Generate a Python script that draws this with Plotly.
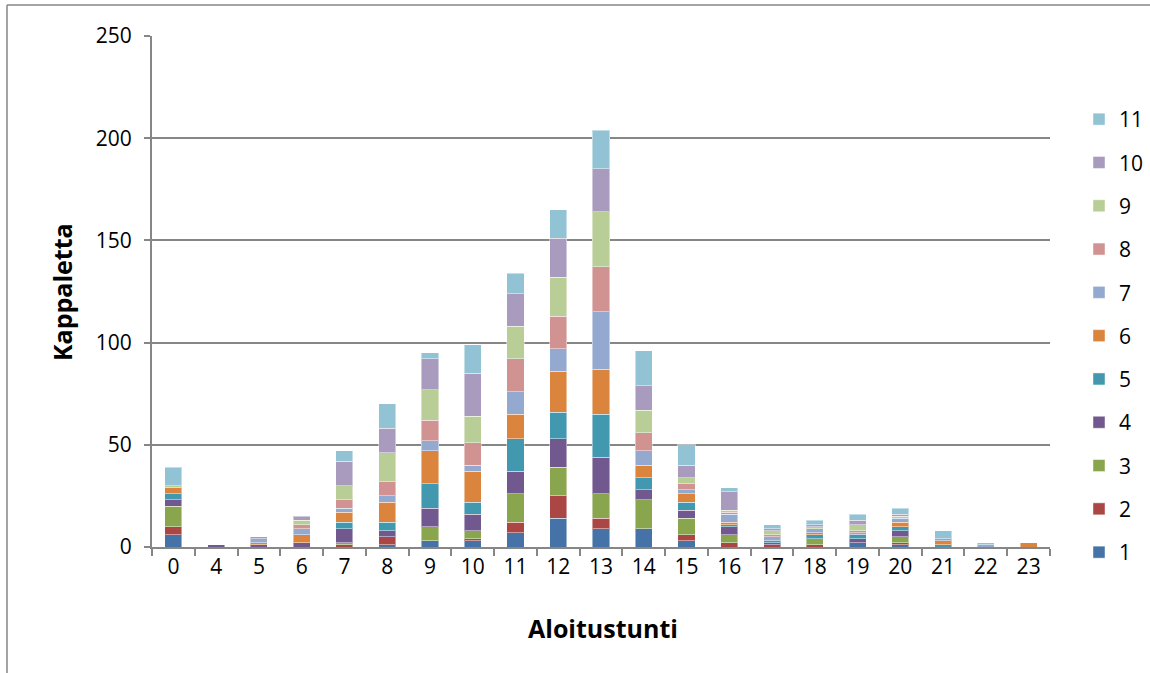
import plotly.graph_objects as go

hours = ["0", "4", "5", "6", "7", "8", "9", "10", "11", "12", "13", "14",
         "15", "16", "17", "18", "19", "20", "21", "22", "23"]

s1 = [6, 0, 0, 0, 0, 1, 3, 3, 7, 14, 9, 9, 3, 0, 0, 0, 2, 1, 0, 0, 0]
s2 = [4, 0, 0, 0, 1, 4, 0, 1, 5, 11, 5, 0, 3, 2, 1, 1, 0, 1, 0, 0, 0]
s3 = [10, 0, 0, 0, 1, 0, 7, 4, 14, 14, 12, 14, 8, 4, 0, 3, 0, 3, 0, 0, 0]
s4 = [3, 1, 1, 2, 7, 3, 9, 8, 11, 14, 18, 5, 4, 4, 1, 0, 2, 3, 0, 0, 0]
s5 = [3, 0, 0, 0, 3, 4, 12, 6, 16, 13, 21, 6, 4, 1, 1, 2, 2, 2, 1, 0, 0]
s6 = [3, 0, 1, 4, 5, 10, 16, 15, 12, 20, 22, 6, 4, 1, 0, 1, 0, 2, 2, 0, 2]
s7 = [0, 0, 2, 3, 2, 3, 5, 3, 11, 11, 28, 7, 2, 4, 2, 2, 1, 2, 0, 1, 0]
s8 = [0, 0, 0, 2, 4, 7, 10, 11, 16, 16, 22, 9, 3, 1, 1, 0, 1, 0, 0, 0, 0]
s9 = [1, 0, 0, 2, 7, 14, 15, 13, 16, 19, 27, 11, 3, 1, 2, 1, 3, 1, 0, 0, 0]
s10 = [0, 0, 1, 2, 12, 12, 15, 21, 16, 19, 21, 12, 6, 9, 1, 1, 2, 1, 1, 0, 0]
s11 = [9, 0, 0, 0, 5, 12, 3, 14, 10, 14, 19, 17, 10, 2, 2, 2, 3, 3, 4, 1, 0]

series_names = ["1", "2", "3", "4", "5", "6", "7", "8", "9", "10", "11"]
series_values = [s1, s2, s3, s4, s5, s6, s7, s8, s9, s10, s11]
colors = ["#4573A7", "#AA4643", "#89A54E", "#71588F", "#4198AF", "#DB843D",
          "#93A9CF", "#D19392", "#B9CD96", "#A99BBD", "#92C3D4"]

FONT = "Open Sans"

fig = go.Figure()
n = len(series_names)
for i, (name, vals, col) in enumerate(zip(series_names, series_values, colors)):
    fig.add_trace(go.Bar(
        x=hours,
        y=[v if v else None for v in vals],
        name=name,
        legendgroup=name,
        legendrank=n - i,
        marker=dict(color=col, line=dict(color="rgba(255,255,255,0.45)", width=1)),
    ))

L, R, T, B = 152, 100, 36, 126
W, H = 1150, 673
pw, ph = W - L - R, H - T - B

border = dict(color="#868686", width=1.5)

fig.update_layout(
    width=W, height=H,
    barmode="stack",
    bargap=0.6,
    plot_bgcolor="white",
    paper_bgcolor="white",
    margin=dict(l=L, r=R, t=T, b=B, pad=0, autoexpand=False),
    font=dict(family=FONT, size=21, color="#000000"),
    xaxis=dict(
        type="category",
        showline=True, linecolor="#868686", linewidth=2,
        ticks="outside", tickson="boundaries", ticklen=7, tickcolor="#868686", tickwidth=2,
        showgrid=False,
        tickfont=dict(family=FONT, size=21),
    ),
    yaxis=dict(
        range=[0, 250], dtick=50,
        showline=True, linecolor="#868686", linewidth=2,
        ticks="outside", ticklen=6, tickcolor="#868686", tickwidth=2,
        gridcolor="#868686", gridwidth=2,
        zeroline=False,
        tickfont=dict(family=FONT, size=21),
        ticklabelstandoff=8,
    ),
    legend=dict(
        x=(1079 - L) / pw, xanchor="left",
        y=(547 - 99) / ph, yanchor="top",
        traceorder="grouped",
        tracegroupgap=13,
        font=dict(family=FONT, size=21),
        bgcolor="rgba(0,0,0,0)",
        itemwidth=30,
    ),
    annotations=[
        dict(text="<b>Aloitustunti</b>", xref="paper", yref="paper",
             x=(603 - L) / pw, y=(547 - 628) / ph, xanchor="center", yanchor="middle",
             showarrow=False, font=dict(family=FONT, size=25)),
        dict(text="<b>Kappaletta</b>", xref="paper", yref="paper",
             x=(62 - L) / pw, y=(547 - 292) / ph, xanchor="center", yanchor="middle",
             textangle=-90, showarrow=False, font=dict(family=FONT, size=25)),
    ],
    shapes=[
        dict(type="line", xref="paper", yref="paper",
             x0=(7 - L) / pw, x1=(7 - L) / pw,
             y0=(547 - 700) / ph, y1=(547 - 5) / ph,
             line=border, layer="below"),
        dict(type="line", xref="paper", yref="paper",
             x0=(7 - L) / pw, x1=(1200 - L) / pw,
             y0=(547 - 5) / ph, y1=(547 - 5) / ph,
             line=border, layer="below"),
    ],
)

fig.write_html("out.html")
